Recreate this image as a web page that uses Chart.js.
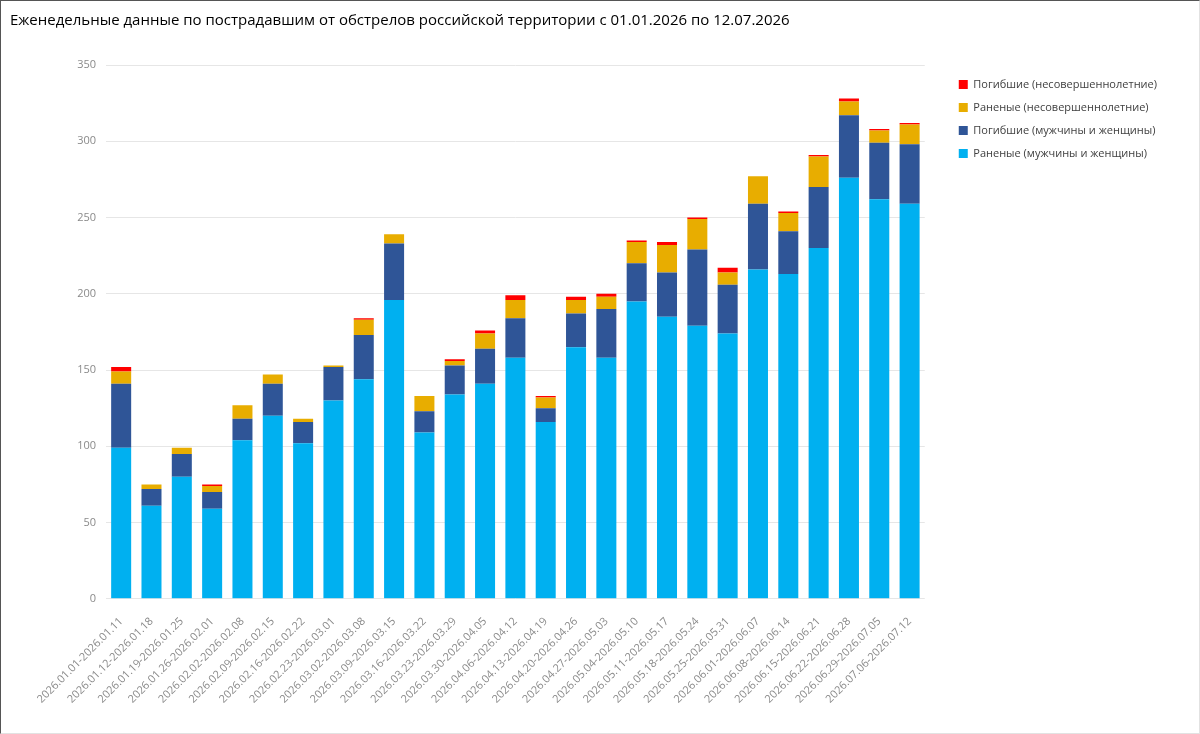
<!DOCTYPE html>
<html>
<head>
<meta charset="utf-8">
<script src="https://cdn.jsdelivr.net/npm/chart.js@4.4.1/dist/chart.umd.min.js"></script>
<style>
  html, body { margin: 0; padding: 0; background: #fff; }
  #wrap { width: 1200px; height: 734px; position: relative; overflow: hidden; }
  #frame { position: absolute; left: 0; top: 0; width: 1198px; height: 732px;
           border-top: 1px solid #555; border-left: 1px solid #555;
           border-right: 1px solid #e2e2e2; border-bottom: 1px solid #e2e2e2; pointer-events: none; }
</style>
</head>
<body>
<div id="wrap"><canvas id="c" width="1200" height="734"></canvas><div id="frame"></div></div>
<script>
const categories = [
  "2026.01.01-2026.01.11","2026.01.12-2026.01.18","2026.01.19-2026.01.25","2026.01.26-2026.02.01",
  "2026.02.02-2026.02.08","2026.02.09-2026.02.15","2026.02.16-2026.02.22","2026.02.23-2026.03.01",
  "2026.03.02-2026.03.08","2026.03.09-2026.03.15","2026.03.16-2026.03.22","2026.03.23-2026.03.29",
  "2026.03.30-2026.04.05","2026.04.06-2026.04.12","2026.04.13-2026.04.19","2026.04.20-2026.04.26",
  "2026.04.27-2026.05.03","2026.05.04-2026.05.10","2026.05.11-2026.05.17","2026.05.18-2026.05.24",
  "2026.05.25-2026.05.31","2026.06.01-2026.06.07","2026.06.08-2026.06.14","2026.06.15-2026.06.21",
  "2026.06.22-2026.06.28","2026.06.29-2026.07.05","2026.07.06-2026.07.12"
];
const woundedAdults = [99,61,80,59,104,120,102,130,144,196,109,134,141,158,116,165,158,195,185,179,174,216,213,230,276,262,259];
const killedAdults  = [42,11,15,11,14,21,14,22,29,37,14,19,23,26,9,22,32,25,29,50,32,43,28,40,41,37,39];
const woundedMinors = [8,3,4,4,9,6,2,1,10,6,10,3,10,12,7,9,8,14,18,20,8,18,12,20,9,8,13];
const killedMinors  = [3,0,0,1,0,0,0,0,1,0,0,1,2,3,1,2,2,1,2,1,3,0,1,1,2,1,1];
const seriesNames = [
  "Раненые (мужчины и женщины)",
  "Погибшие (мужчины и женщины)",
  "Раненые (несовершеннолетние)",
  "Погибшие (несовершеннолетние)"
];
const yTicks = { min: 0, max: 350, step: 50 };
const titleText = "Еженедельные данные по пострадавшим от обстрелов российской территории с 01.01.2026 по 12.07.2026";

const FONT = "'Open Sans', 'Noto Sans', sans-serif";
const colors = ["#00B0F0", "#2F5597", "#E8AD00", "#FF0000"];
const seriesData = [woundedAdults, killedAdults, woundedMinors, killedMinors];

new Chart(document.getElementById("c"), {
  type: "bar",
  data: {
    labels: categories,
    datasets: seriesData.map((d, i) => ({
      label: seriesNames[i],
      data: d,
      backgroundColor: colors[i],
      borderWidth: 0,
      barPercentage: 0.66,
      categoryPercentage: 1.0,
      stack: "s"
    }))
  },
  options: {
    responsive: false,
    animation: false,
    layout: { padding: { left: 10, right: 33, top: 0, bottom: 20 } },
    plugins: {
      title: {
        display: true,
        text: titleText,
        align: "start",
        color: "#000",
        font: { family: FONT, size: 15, weight: "normal" },
        padding: { top: 12, bottom: 35 },
        fullSize: true
      },
      legend: {
        position: "right",
        align: "start",
        reverse: true,
        maxWidth: 260,
        title: { display: true, text: " ", font: { size: 10 }, padding: { top: 55, bottom: 0 } },
        labels: {
          boxWidth: 9,
          boxHeight: 9,
          padding: 12,
          color: "#404040",
          font: { family: FONT, size: 11 }
        }
      },
      tooltip: { enabled: false }
    },
    scales: {
      x: {
        stacked: true,
        grid: { display: false },
        border: { display: false },
        ticks: {
          color: "#8a8a8a",
          font: { family: FONT, size: 11 },
          maxRotation: 45,
          minRotation: 45,
          autoSkip: false,
          padding: 8
        }
      },
      y: {
        stacked: true,
        min: yTicks.min,
        max: yTicks.max,
        grid: { color: "#e6e6e6", drawTicks: false },
        border: { display: false },
        afterFit: (s) => { s.width = 96; },
        ticks: {
          stepSize: yTicks.step,
          color: "#8a8a8a",
          font: { family: FONT, size: 11 },
          padding: 10
        }
      },
      gap: {
        position: "right",
        display: true,
        min: 0, max: 1,
        grid: { display: false },
        border: { display: false },
        ticks: { display: false },
        afterFit: (s) => { s.width = 22; }
      }
    }
  }
});
</script>
</body>
</html>
